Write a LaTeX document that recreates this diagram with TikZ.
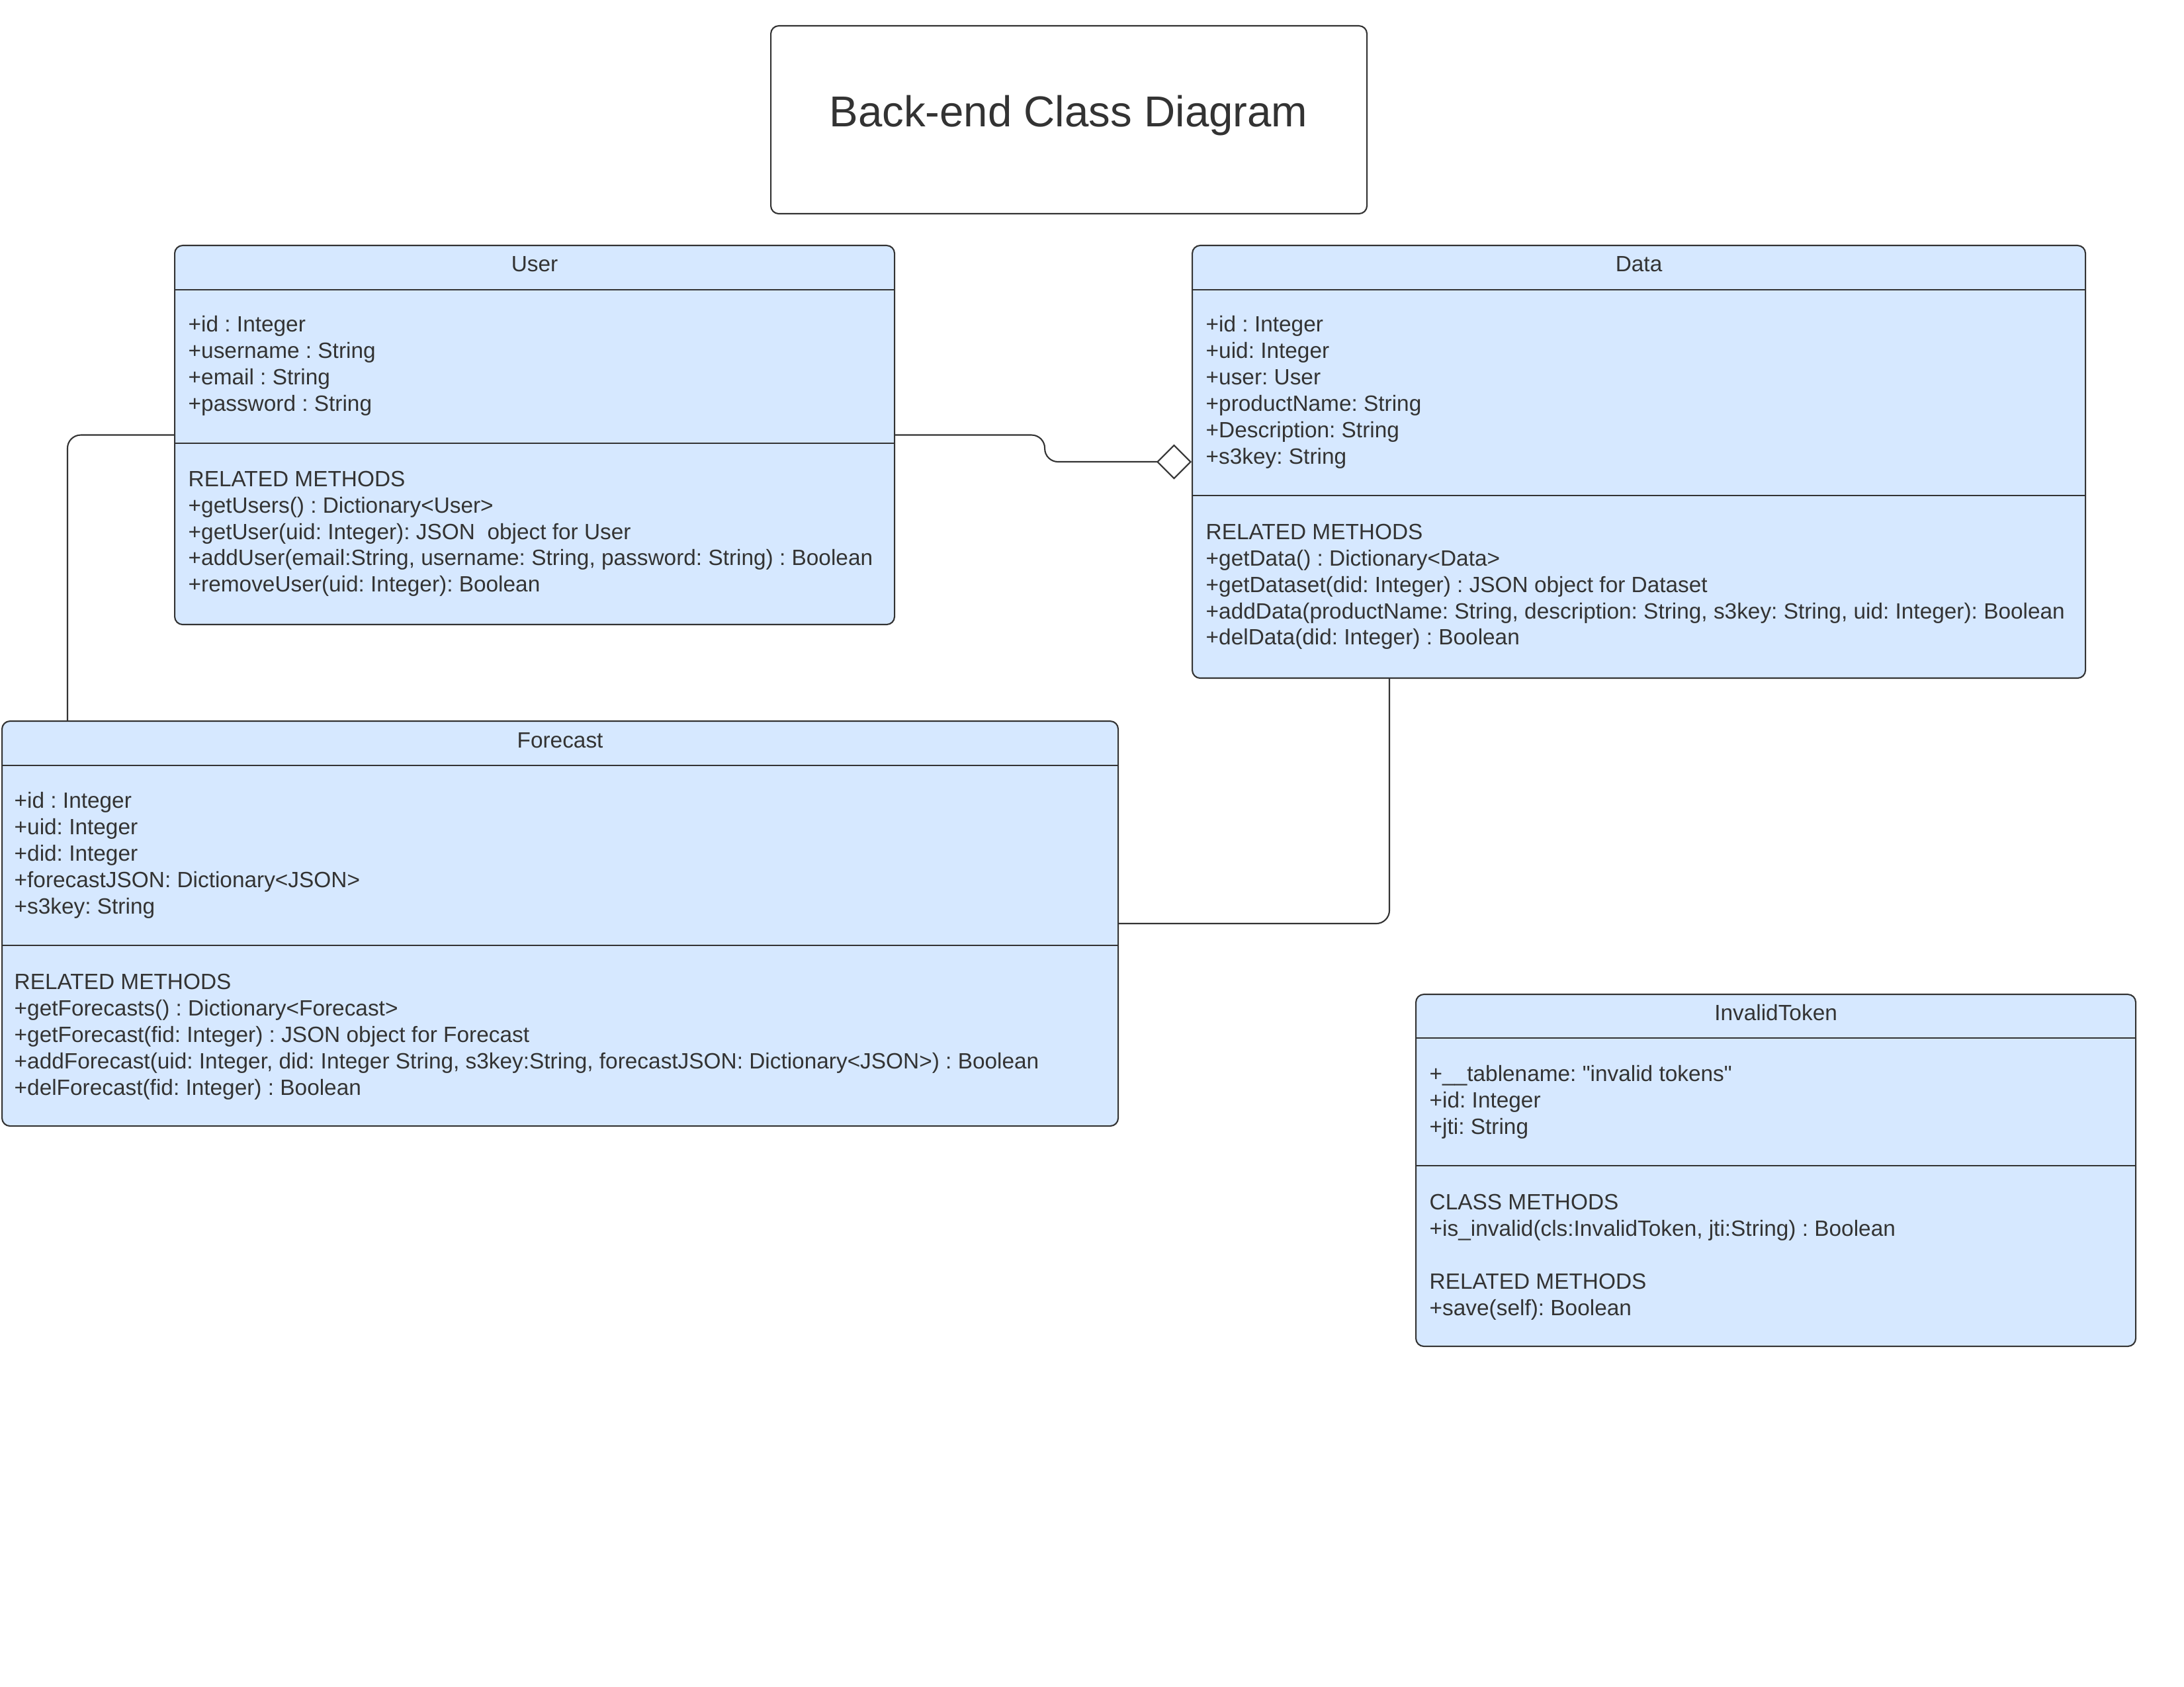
\documentclass[tikz,border=0pt]{standalone}
\usepackage{fontspec}
\setmainfont{Liberation Sans}
\usepackage{tikz}
\usetikzlibrary{arrows.meta}

\definecolor{classblue}{RGB}{214,232,255}
\definecolor{linegray}{RGB}{51,51,51}
\definecolor{textgray}{RGB}{51,51,51}

\frenchspacing
\newcommand{\classfont}{\fontsize{9.5}{11.38}\selectfont}
\newcommand{\straightquote}{\XeTeXglyph\XeTeXcharglyph"22\relax}

\tikzset{
	classbox/.style={draw=linegray, fill=classblue, line width=0.6pt, rounded corners=0.12cm, inner sep=0pt, anchor=north west},
	classname/.style={anchor=base, inner sep=0pt, font=\classfont, text=textgray},
	members/.style={anchor=north west, align=left, inner sep=0pt, font=\classfont, text=textgray},
	divider/.style={draw=linegray, line width=0.6pt},
	link/.style={draw=linegray, line width=0.6pt, rounded corners=0.2cm}
}

\begin{document}
\begin{tikzpicture}

	\useasboundingbox (0,0) rectangle (33.01,-25.50);

	% title
	\node[draw=linegray, line width=0.6pt, rounded corners=0.12cm, minimum width=9.01cm, minimum height=2.84cm, anchor=north west] (title) at (11.64,-0.38) {};
	\node[anchor=base, inner sep=0pt, text=textgray, font=\fontsize{18.6}{22}\selectfont] (titletext) at (16.15,-1.92) {Back-end Class Diagram};

	% class boxes
	\node[classbox, minimum width=10.88cm, minimum height=5.73cm] (user) at (2.63,-3.70) {};
	\node[classbox, minimum width=13.50cm, minimum height=6.54cm] (data) at (18.01,-3.70) {};
	\node[classbox, minimum width=16.87cm, minimum height=6.12cm] (forecast) at (0.02,-10.89) {};
	\node[classbox, minimum width=10.88cm, minimum height=5.32cm] (token) at (21.39,-15.02) {};

	% Draw compartment lines
	\draw[divider] ([yshift=-0.68cm]user.north west) -- ([yshift=-0.68cm]user.north east);
	\draw[divider] ([yshift=-3.00cm]user.north west) -- ([yshift=-3.00cm]user.north east);
	\draw[divider] ([yshift=-0.68cm]data.north west) -- ([yshift=-0.68cm]data.north east);
	\draw[divider] ([yshift=-3.79cm]data.north west) -- ([yshift=-3.79cm]data.north east);
	\draw[divider] ([yshift=-0.68cm]forecast.north west) -- ([yshift=-0.68cm]forecast.north east);
	\draw[divider] ([yshift=-3.40cm]forecast.north west) -- ([yshift=-3.40cm]forecast.north east);
	\draw[divider] ([yshift=-0.67cm]token.north west) -- ([yshift=-0.67cm]token.north east);
	\draw[divider] ([yshift=-2.60cm]token.north west) -- ([yshift=-2.60cm]token.north east);

	% User
	\node[classname] (username) at ([yshift=-0.41cm]user.north) {User};
	\node[members] (userattr) at ([xshift=0.21cm,yshift=-1.07cm]user.north west)
		{+id : Integer\\+username : String\\+email : String\\+password : String};
	\node[members] (usermeth) at ([xshift=0.21cm,yshift=-3.41cm]user.north west)
		{RELATED METHODS\\+getUsers() : Dictionary<User>\\+getUser(uid: Integer): JSON \ object for User\\+addUser(email:String, username: String, password: String) : Boolean\\+removeUser(uid: Integer): Boolean};

	% Data
	\node[classname] (dataname) at ([yshift=-0.41cm]data.north) {Data};
	\node[members] (dataattr) at ([xshift=0.21cm,yshift=-1.07cm]data.north west)
		{+id : Integer\\+uid: Integer\\+user: User\\+productName: String\\+Description: String\\+s3key: String};
	\node[members] (datameth) at ([xshift=0.21cm,yshift=-4.21cm]data.north west)
		{RELATED METHODS\\+getData() : Dictionary<Data>\\+getDataset(did: Integer) : JSON object for Dataset\\+addData(productName: String, description: String, s3key: String, uid: Integer): Boolean\\+delData(did: Integer) : Boolean};

	% Forecast
	\node[classname] (forecastname) at ([yshift=-0.42cm]forecast.north) {Forecast};
	\node[members] (forecastattr) at ([xshift=0.19cm,yshift=-1.08cm]forecast.north west)
		{+id : Integer\\+uid: Integer\\+did: Integer\\+forecastJSON: Dictionary<JSON>\\+s3key: String};
	\node[members] (forecastmeth) at ([xshift=0.19cm,yshift=-3.82cm]forecast.north west)
		{RELATED METHODS\\+getForecasts() : Dictionary<Forecast>\\+getForecast(fid: Integer) : JSON object for Forecast\\+addForecast(uid: Integer, did: Integer String, s3key:String, forecastJSON: Dictionary<JSON>) : Boolean\\+delForecast(fid: Integer) : Boolean};

	% InvalidToken
	\node[classname] (tokenname) at ([yshift=-0.41cm]token.north) {InvalidToken};
	\node[members] (tokenattr) at ([xshift=0.21cm,yshift=-1.08cm]token.north west)
		{+\_\_tablename: \straightquote invalid tokens\straightquote\\+id: Integer\\+jti: String};
	\node[members] (tokenclass) at ([xshift=0.21cm,yshift=-3.02cm]token.north west)
		{CLASS METHODS\\+is\_invalid(cls:InvalidToken, jti:String) : Boolean};
	\node[members] (tokenrel) at ([xshift=0.21cm,yshift=-4.22cm]token.north west)
		{RELATED METHODS\\+save(self): Boolean};

	% connectors
	\coordinate (fcTop) at ([xshift=1.00cm]forecast.north west);
	\coordinate (dataBot) at ([xshift=2.99cm]data.south west);

	\draw[link] (user.west) -| (fcTop);
	\draw[link, -{Diamond[open, length=0.53cm, width=0.53cm]}] (user.east) -- ++(2.26,0) |- (data.west);
	\draw[link] (dataBot) |- (forecast.east);

\end{tikzpicture}
\end{document}
